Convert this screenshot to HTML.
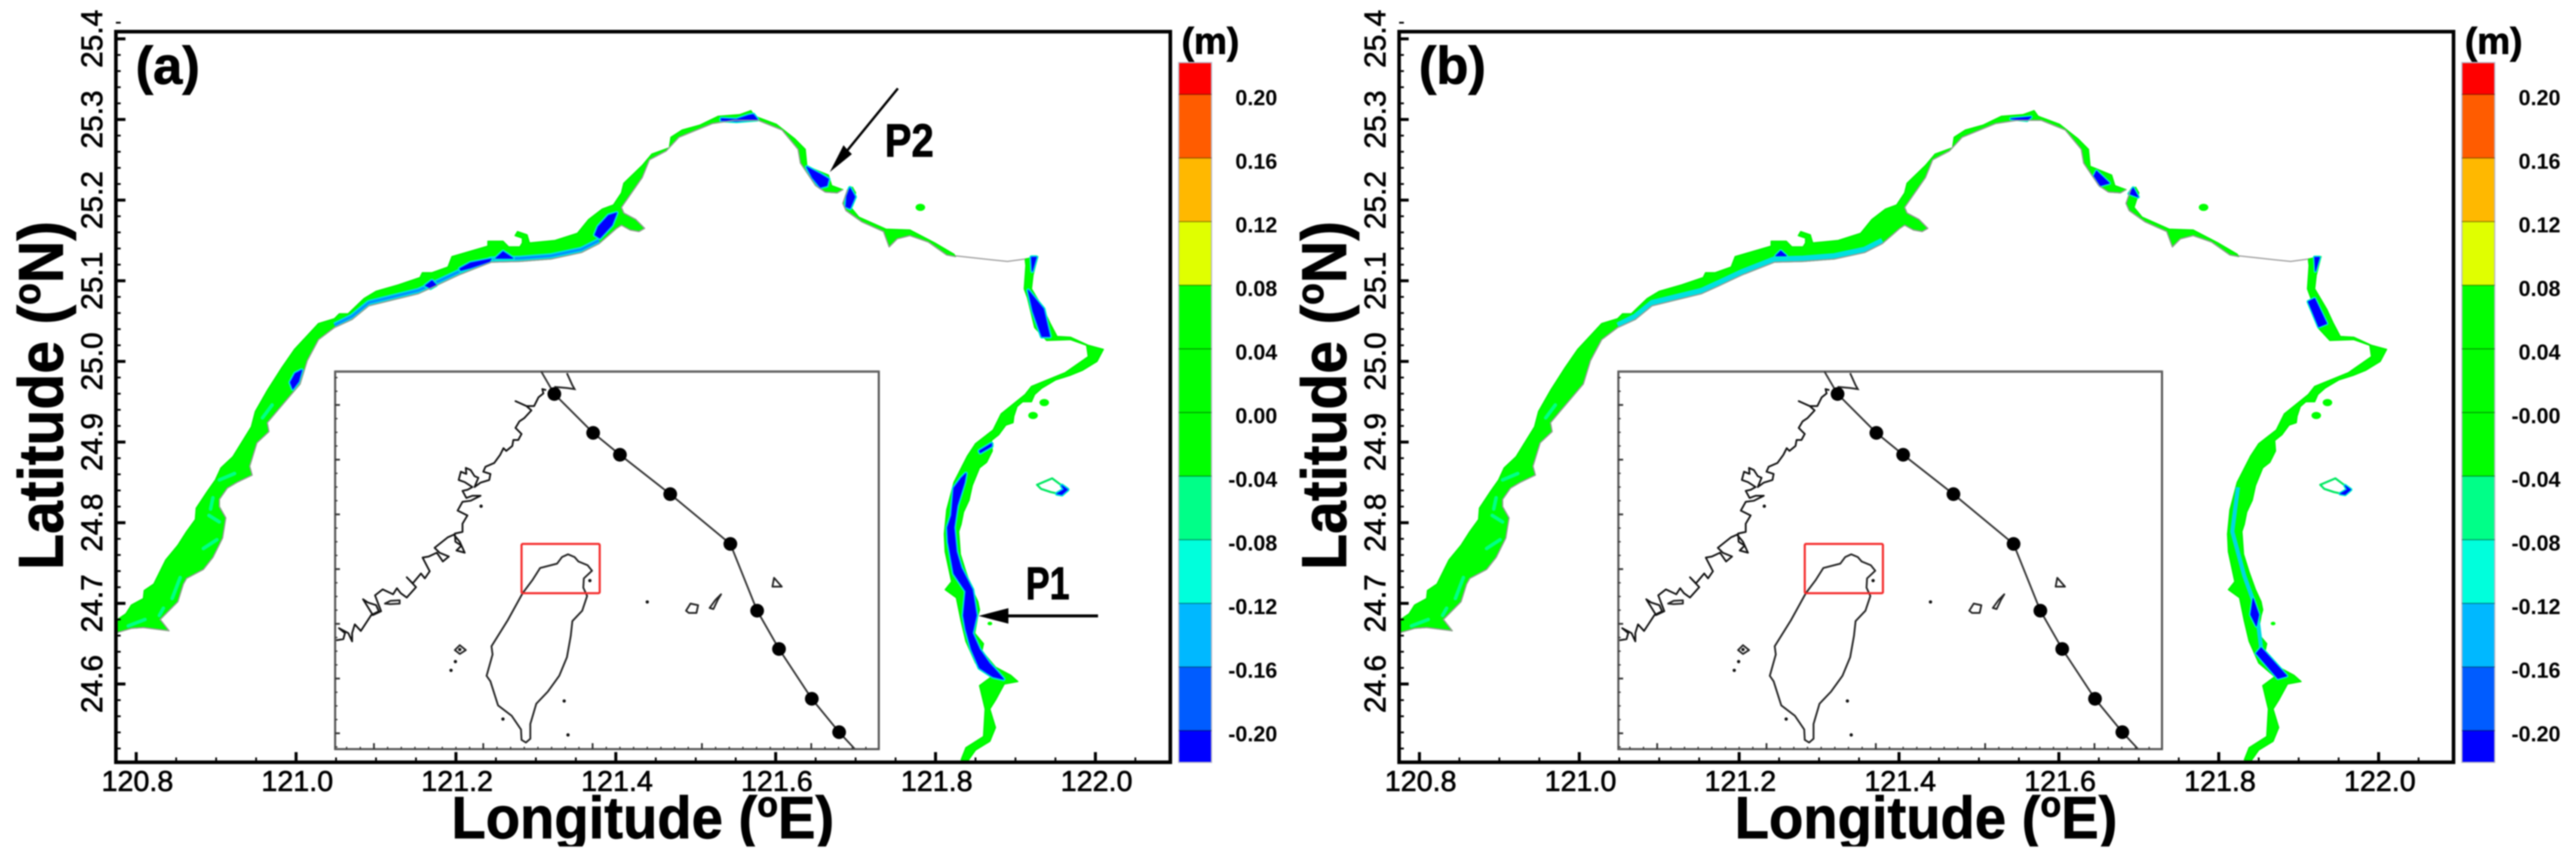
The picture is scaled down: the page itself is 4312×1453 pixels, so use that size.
<!DOCTYPE html>
<html lang="en">
<head>
<meta charset="utf-8">
<title>Surge difference maps</title>
<style>
html,body{margin:0;padding:0;background:#fff;width:4312px;height:1453px;overflow:hidden}
svg{display:block;filter:blur(1px)}
text{font-family:"Liberation Sans",sans-serif;fill:#000}
.tt{font-weight:bold;stroke:#000;stroke-width:1.2px}
</style>
</head>
<body>
<svg id="figure" xmlns="http://www.w3.org/2000/svg" width="4312" height="1453" viewBox="0 0 4312 1453">
<defs><clipPath id="title-clip"><rect x="0" y="1300" width="2200" height="117"/></clipPath></defs>
<rect x="0" y="0" width="4312" height="1453" fill="#fff"/>

<g id="panel-a">
  <g id="marks-a"></g>
  <text class="tt" x="227" y="140" font-size="88">(a)</text>
  <text class="tt" transform="translate(105,662) rotate(-90) scale(.93,1)" text-anchor="middle" font-size="106">Latitude (<tspan font-size="64" dy="-38">o</tspan><tspan dy="38">N)</tspan></text>
  <g clip-path="url(#title-clip)"><text class="tt" transform="translate(1076,1403) scale(.95,1)" text-anchor="middle" font-size="99">Longitude (<tspan font-size="60" dy="-36">o</tspan><tspan dy="36">E)</tspan></text></g>
  <text class="tt" x="1978" y="90" font-size="62">(m)</text>
  <g>
    <line x1="1838" y1="1031" x2="1670" y2="1031" stroke="#000" stroke-width="5"/>
    <polygon points="1638,1031 1688,1018 1688,1044" fill="#000"/>
    <text class="tt" transform="translate(1717,1003) scale(.78,1)" font-size="77">P1</text>
  </g>
  <g>
    <line x1="1503" y1="148" x2="1410" y2="262" stroke="#000" stroke-width="4"/>
    <polygon points="1389,288 1412,243 1418,250 1426,258" fill="#000"/>
    <text class="tt" transform="translate(1481,262) scale(.86,1)" font-size="78">P2</text>
  </g>
</g>

<g id="panel-b" transform="translate(2148,0)">
  <g id="marks-b"></g>
  <text class="tt" x="227" y="140" font-size="88">(b)</text>
  <text class="tt" transform="translate(105,662) rotate(-90) scale(.93,1)" text-anchor="middle" font-size="106">Latitude (<tspan font-size="64" dy="-38">o</tspan><tspan dy="38">N)</tspan></text>
  <g clip-path="url(#title-clip)"><text class="tt" transform="translate(1076,1403) scale(.95,1)" text-anchor="middle" font-size="99">Longitude (<tspan font-size="60" dy="-36">o</tspan><tspan dy="36">E)</tspan></text></g>
  <text class="tt" x="1978" y="90" font-size="62">(m)</text>
</g>
</svg>

<script>
/* ---------- axis data ---------- */
const lonTicks=[120.8,121.0,121.2,121.4,121.6,121.8,122.0];
const lonTickLabels=["120.8","121.0","121.2","121.4","121.6","121.8","122.0"];
const latTicks=[24.6,24.7,24.8,24.9,25.0,25.1,25.2,25.3,25.4];
const latTickLabels=["24.6","24.7","24.8","24.9","25.0","25.1","25.2","25.3","25.4"];

/* ---------- colour bar data ---------- */
const cbarEdges=[0.22,0.20,0.16,0.12,0.08,0.04,0.00,-0.04,-0.08,-0.12,-0.16,-0.20,-0.22];
const cbarLevels=[0.20,0.16,0.12,0.08,0.04,0.00,-0.04,-0.08,-0.12,-0.16,-0.20];
const cbarLabelsA=["0.20","0.16","0.12","0.08","0.04","0.00","-0.04","-0.08","-0.12","-0.16","-0.20"];
const cbarLabelsB=["0.20","0.16","0.12","0.08","0.04","-0.00","-0.04","-0.08","-0.12","-0.16","-0.20"];
const cbarColors=["#ff0000","#ff5c00","#ffb800","#e0ff00","#00ff00","#00ff00","#00ff00","#00ff88","#00ffdc","#00b8ff","#005cff","#0000ff"];

/* ---------- contour regions, [lon, lat] ---------- */
const westLand=[[120.777,24.664],[120.794,24.669],[120.809,24.670],[120.841,24.666],[120.830,24.680],[120.852,24.702],[120.859,24.724],[120.863,24.731],[120.884,24.742],[120.896,24.757],[120.908,24.781],[120.912,24.806],[120.904,24.820],[120.904,24.829],[120.914,24.843],[120.926,24.850],[120.945,24.859],[120.942,24.870],[120.951,24.899],[120.966,24.913],[120.964,24.924],[120.981,24.944],[121.005,24.972],[121.014,25.001],[121.028,25.027],[121.048,25.042],[121.070,25.052],[121.091,25.069],[121.120,25.076],[121.153,25.084],[121.173,25.093],[121.203,25.107],[121.244,25.123],[121.280,25.124],[121.319,25.127],[121.357,25.135],[121.379,25.146],[121.401,25.165],[121.407,25.169],[121.418,25.163],[121.429,25.161],[121.436,25.165],[121.425,25.176],[121.410,25.184],[121.407,25.191],[121.433,25.228],[121.442,25.250],[121.463,25.261],[121.479,25.278],[121.521,25.295],[121.548,25.299],[121.578,25.299],[121.608,25.287],[121.628,25.263],[121.631,25.246],[121.650,25.218],[121.662,25.210],[121.677,25.209],[121.684,25.213]];
const westSea=[[121.681,25.214],[121.670,25.218],[121.666,25.231],[121.639,25.242],[121.637,25.263],[121.624,25.276],[121.601,25.294],[121.574,25.304],[121.569,25.311],[121.555,25.306],[121.528,25.304],[121.505,25.293],[121.483,25.287],[121.469,25.278],[121.467,25.265],[121.445,25.257],[121.433,25.243],[121.410,25.221],[121.407,25.209],[121.397,25.194],[121.383,25.189],[121.366,25.176],[121.357,25.165],[121.352,25.159],[121.324,25.150],[121.292,25.147],[121.289,25.157],[121.277,25.161],[121.274,25.156],[121.283,25.153],[121.283,25.147],[121.280,25.142],[121.266,25.142],[121.259,25.149],[121.240,25.149],[121.240,25.143],[121.195,25.130],[121.190,25.117],[121.170,25.110],[121.158,25.110],[121.155,25.104],[121.128,25.095],[121.100,25.087],[121.085,25.078],[121.065,25.059],[121.054,25.059],[121.048,25.053],[121.028,25.047],[120.998,25.015],[120.982,24.992],[120.964,24.964],[120.949,24.938],[120.944,24.919],[120.921,24.882],[120.906,24.868],[120.899,24.853],[120.889,24.839],[120.875,24.818],[120.874,24.804],[120.863,24.789],[120.852,24.772],[120.837,24.754],[120.822,24.724],[120.810,24.716],[120.809,24.706],[120.794,24.698],[120.787,24.687],[120.775,24.679]];
const cyanStripWest=[[121.048,25.045],[121.070,25.056],[121.091,25.073],[121.120,25.080],[121.153,25.088],[121.173,25.097],[121.203,25.111],[121.244,25.127],[121.280,25.128],[121.319,25.131],[121.357,25.139],[121.379,25.150]];
const northLand=[[121.690,25.213],[121.684,25.196],[121.688,25.187],[121.708,25.173],[121.735,25.161],[121.742,25.142],[121.752,25.152],[121.768,25.156],[121.791,25.148],[121.814,25.132],[121.825,25.130]];
const northSea=[[121.823,25.133],[121.799,25.147],[121.768,25.163],[121.738,25.164],[121.704,25.179],[121.694,25.191],[121.700,25.209],[121.696,25.216]];
const grayCoast=[[121.825,25.131],[121.870,25.126],[121.890,25.124],[121.912,25.127]];
const eastOuter=[[121.912,25.127],[121.928,25.130],[121.922,25.107],[121.920,25.090],[121.935,25.065],[121.943,25.048],[121.952,25.031],[121.969,25.030],[121.991,25.020],[122.010,25.015],[122.002,25.000],[121.984,24.989],[121.969,24.983],[121.950,24.977],[121.933,24.967],[121.924,24.959],[121.920,24.950],[121.909,24.950],[121.902,24.944],[121.898,24.932],[121.897,24.924],[121.888,24.921],[121.879,24.909],[121.870,24.902],[121.871,24.889],[121.864,24.875],[121.855,24.868],[121.846,24.846],[121.842,24.828],[121.835,24.813],[121.832,24.798],[121.829,24.789],[121.831,24.761],[121.838,24.739],[121.846,24.717],[121.853,24.702],[121.855,24.692],[121.853,24.685],[121.849,24.663],[121.860,24.650],[121.858,24.641],[121.875,24.621],[121.894,24.611],[121.903,24.603],[121.886,24.600],[121.875,24.580],[121.868,24.569],[121.875,24.546],[121.868,24.529],[121.850,24.518],[121.840,24.504]];
const eastInner=[[121.832,24.506],[121.838,24.521],[121.860,24.535],[121.862,24.569],[121.855,24.598],[121.870,24.609],[121.850,24.626],[121.838,24.653],[121.832,24.678],[121.826,24.707],[121.812,24.717],[121.820,24.727],[121.812,24.764],[121.811,24.786],[121.814,24.816],[121.823,24.850],[121.840,24.883],[121.850,24.898],[121.872,24.915],[121.882,24.935],[121.912,24.959],[121.920,24.969],[121.962,24.986],[121.991,25.006],[121.989,25.020],[121.969,25.027],[121.939,25.026],[121.924,25.042],[121.915,25.079],[121.911,25.090],[121.913,25.119]];
const ringIsland=[[121.927,24.847],[121.946,24.855],[121.954,24.849],[121.965,24.841],[121.958,24.835],[121.944,24.838],[121.932,24.842]];
const greenIslets=[[121.936,24.949],[121.922,24.933],[121.868,24.675],[121.781,25.191]];
const lightStreaks=[[[120.958,24.930],[120.970,24.946]],[[120.896,24.831],[120.893,24.817]],[[120.891,24.809],[120.904,24.801]],[[120.901,24.779],[120.884,24.768]],[[120.855,24.732],[120.845,24.706]],[[120.834,24.694],[120.829,24.685]],[[120.811,24.680],[120.790,24.672]],[[120.904,24.853],[120.923,24.861]]];

/* lowest-level pools in each panel */
const poolsA=[
 [[121.838,24.861],[121.836,24.850],[121.827,24.821],[121.823,24.794],[121.826,24.764],[121.832,24.744],[121.846,24.717],[121.849,24.698],[121.851,24.685],[121.846,24.663],[121.855,24.643],[121.867,24.626],[121.879,24.613],[121.885,24.606],[121.872,24.609],[121.855,24.620],[121.845,24.643],[121.838,24.668],[121.835,24.685],[121.838,24.715],[121.823,24.737],[121.816,24.776],[121.815,24.794],[121.820,24.809],[121.823,24.843],[121.832,24.855]],
 [[121.855,24.889],[121.870,24.898],[121.870,24.895],[121.856,24.887]],
 [[121.401,25.184],[121.395,25.169],[121.380,25.153],[121.374,25.157],[121.378,25.167],[121.391,25.181]],
 [[121.250,25.128],[121.259,25.136],[121.271,25.128]],
 [[121.205,25.115],[121.218,25.122],[121.244,25.127],[121.242,25.124],[121.218,25.116],[121.206,25.113]],
 [[121.162,25.094],[121.170,25.100],[121.175,25.095],[121.168,25.091]],
 [[121.532,25.301],[121.551,25.300],[121.566,25.305],[121.572,25.306],[121.577,25.300],[121.551,25.298],[121.532,25.299]],
 [[121.639,25.241],[121.656,25.232],[121.666,25.226],[121.664,25.218],[121.656,25.216],[121.646,25.228]],
 [[121.693,25.215],[121.699,25.204],[121.693,25.190],[121.688,25.192],[121.689,25.205]],
 [[121.920,25.129],[121.926,25.129],[121.921,25.112]],
 [[121.916,25.088],[121.935,25.065],[121.943,25.031],[121.933,25.031],[121.922,25.062]],
 [[121.007,24.989],[121.003,24.975],[120.996,24.966],[120.993,24.974],[120.999,24.985]],
 [[121.958,24.846],[121.965,24.841],[121.958,24.835],[121.952,24.836],[121.961,24.841]]
];
const poolsB=[
 [[121.843,24.706],[121.850,24.686],[121.847,24.672],[121.840,24.686]],
 [[121.853,24.645],[121.885,24.610],[121.874,24.607],[121.847,24.638]],
 [[121.920,25.078],[121.935,25.047],[121.925,25.043],[121.912,25.074]],
 [[121.540,25.301],[121.565,25.303],[121.560,25.299]],
 [[121.647,25.236],[121.663,25.221],[121.652,25.218],[121.644,25.230]],
 [[121.693,25.215],[121.699,25.204],[121.688,25.208]],
 [[121.920,25.129],[121.926,25.129],[121.921,25.112]],
 [[121.246,25.131],[121.252,25.137],[121.259,25.131]],
 [[121.958,24.846],[121.965,24.841],[121.958,24.835],[121.952,24.836],[121.961,24.841]]
];
const eastStripB=[[121.824,24.844],[121.817,24.789],[121.832,24.734],[121.847,24.693],[121.853,24.645]];

/* ---------- inset map data ---------- */
const trackLon=[121.06,121.30,122.01,122.50,123.42,124.52,125.01,125.41,126.01,126.51,126.79];
const trackLat=[28.61,28.20,27.49,27.09,26.37,25.46,24.24,23.54,22.63,22.02,21.72];
const markerLon=[121.30,122.01,122.50,123.42,124.52,125.01,125.41,126.01,126.51];
const markerLat=[28.20,27.49,27.09,26.37,25.46,24.24,23.54,22.63,22.02];
const insetLonTicks=[118,120,122,124,126];
const insetLatTicks=[22,23,24,25,26,27,28];
const taiwanCoast=[[121.55,25.27],[121.67,25.22],[121.74,25.14],[121.91,25.07],[121.99,24.97],[121.84,24.83],[121.83,24.66],[121.90,24.51],[121.81,24.24],[121.63,24.05],[121.60,23.78],[121.53,23.39],[121.39,23.05],[121.18,22.76],[120.97,22.54],[120.86,22.17],[120.86,21.90],[120.78,21.83],[120.70,21.88],[120.69,22.07],[120.52,22.32],[120.27,22.51],[120.13,22.95],[120.06,23.05],[120.17,23.44],[120.15,23.59],[120.45,24.07],[120.72,24.56],[120.90,24.80],[121.04,25.02],[121.35,25.10],[121.44,25.22]];
const mainlandCoast=[[121.15,28.27],[121.08,28.29],[121.10,28.21],[121.01,28.14],[120.93,27.98],[120.79,27.98],[120.59,28.07],[120.79,27.98],[120.88,27.90],[120.75,27.76],[120.66,27.70],[120.59,27.58],[120.70,27.47],[120.64,27.36],[120.55,27.36],[120.53,27.25],[120.42,27.16],[120.37,27.21],[120.31,27.09],[120.20,26.94],[120.04,26.87],[120.00,26.78],[120.13,26.74],[120.11,26.63],[119.95,26.58],[119.84,26.50],[119.91,26.67],[119.84,26.70],[119.77,26.81],[119.68,26.85],[119.69,26.74],[119.59,26.78],[119.55,26.63],[119.66,26.59],[119.80,26.50],[119.71,26.45],[119.62,26.43],[119.69,26.30],[119.80,26.34],[119.95,26.34],[119.77,26.25],[119.62,26.23],[119.53,26.07],[119.71,25.98],[119.62,25.83],[119.62,25.68],[119.48,25.65],[119.49,25.50],[119.60,25.43],[119.51,25.34],[119.66,25.30],[119.57,25.50],[119.46,25.63],[119.35,25.58],[119.11,25.39],[119.20,25.30],[119.37,25.23],[119.26,25.14],[119.15,25.30],[119.00,25.23],[118.89,25.21],[119.02,24.96],[118.93,24.83],[118.86,24.92],[118.71,24.74],[118.60,24.85],[118.77,24.67],[118.60,24.48],[118.49,24.56],[118.42,24.65],[118.35,24.54],[118.16,24.63],[118.02,24.52],[118.13,24.23],[117.98,24.16],[117.80,24.45],[117.89,24.39],[118.04,24.34],[118.09,24.23],[117.95,24.16],[117.76,23.87],[117.65,23.99],[117.60,23.83],[117.60,23.68],[117.53,23.83],[117.36,23.92],[117.47,23.83],[117.44,23.72],[117.31,23.70]];
const northCoast=[[121.53,28.58],[121.63,28.36],[121.67,28.29],[121.53,28.31],[121.30,28.33]];
const ringIsles=[[[123.71,24.24],[123.79,24.37],[123.93,24.34],[123.90,24.20],[123.76,24.20]],[[124.14,24.29],[124.25,24.44],[124.35,24.54],[124.29,24.44],[124.21,24.27]],[[125.29,24.68],[125.46,24.68],[125.32,24.84]],[[118.20,24.37],[118.30,24.42],[118.47,24.43],[118.47,24.37],[118.30,24.36]],[[119.48,23.52],[119.57,23.61],[119.68,23.52],[119.57,23.45]]];
const dotIsles=[[119.57,23.53],[119.49,23.31],[119.41,23.15],[120.36,22.26],[121.48,22.59],[121.55,21.97],[123.00,24.40],[119.96,26.15],[121.95,24.79]];
const boxLon=[120.70,122.13];
const boxLat=[24.56,25.46];

/* ---------- axis functions ---------- */
function sx(lon){return 228+(lon-120.8)*1338;}
function sy(lat){return 200+(25.3-lat)*1350;}
function ix(lon){return 561+(lon-117.29)*91.5;}
function iy(lat){return 622+(28.61-lat)*91.6;}
function cy(v){return 158+(0.20-v)*2662.5;}

const NS='http://www.w3.org/2000/svg';
function add(parent,tag,attrs){
  const el=document.createElementNS(NS,tag);
  for(const k in attrs){el.setAttribute(k,attrs[k]);}
  parent.appendChild(el);
  return el;
}
function pts(list){return list.map(p=>sx(p[0]).toFixed(1)+','+sy(p[1]).toFixed(1)).join(' ');}
function ipts(list){return list.map(p=>ix(p[0]).toFixed(1)+','+iy(p[1]).toFixed(1)).join(' ');}

function drawPanel(root,pools,labels,isB){
  /* surge regions */
  const regions=[westLand.concat(westSea),northLand.concat(northSea),eastOuter.concat(eastInner)];
  regions.forEach(function(r){
    const el=add(root,'polygon',{points:pts(r),fill:'#00ff00',stroke:'#00f000','stroke-width':2,'stroke-linejoin':'round'});
    
    
  });
  greenIslets.forEach(function(p){
    const el=add(root,'ellipse',{cx:sx(p[0]),cy:sy(p[1]),rx:p[1]<24.8?4:8,ry:p[1]<24.8?3:6,fill:'#00ff00'});
    
    
  });
  lightStreaks.forEach(function(s){
    const el=add(root,'polyline',{points:pts(s),fill:'none',stroke:'#00ff88','stroke-width':6,'stroke-linecap':'round'});
    
    
  });
  const strip=add(root,'polyline',{points:pts(cyanStripWest),fill:'none',stroke:'#00e0e0','stroke-width':9,'stroke-linejoin':'round'});
  
  
  if(!isB){
    const inner=add(root,'polyline',{points:pts(cyanStripWest),fill:'none',stroke:'#0090ff','stroke-width':4,'stroke-linejoin':'round'});
    
    
  }
  if(isB){
    const eb=add(root,'polyline',{points:pts(eastStripB),fill:'none',stroke:'#00d8e0','stroke-width':7,'stroke-linejoin':'round'});
    
    
  }
  const ring=add(root,'polygon',{points:pts(ringIsland),fill:'#fff',stroke:'#00e860','stroke-width':3.5,'stroke-linejoin':'round'});
  
  
  /* pools with contour halos */
  pools.forEach(function(pool){
    const a=add(root,'polygon',{points:pts(pool),fill:'#00ffc0',stroke:'#00ffc0','stroke-width':isB?6:7,'stroke-linejoin':'round'});
    
    
    const b=add(root,'polygon',{points:pts(pool),fill:'#00a0ff',stroke:'#00a0ff','stroke-width':isB?3:4,'stroke-linejoin':'round'});
    
    
    const c=add(root,'polygon',{points:pts(pool),fill:'#0000ff',stroke:'#0000ff','stroke-width':1,'stroke-linejoin':'round'});
    
    
  });
  /* coast edges */
  [westLand,northLand,grayCoast].forEach(function(c){
    const el=add(root,'polyline',{points:pts(c),fill:'none',stroke:'#999','stroke-width':2,'stroke-linejoin':'round'});
    
    
  });

  /* frame and ticks */
  const frame=add(root,'rect',{x:194,y:53,width:1765,height:1223,fill:'none',stroke:'#000','stroke-width':6});
  
  
  for(let i=0;i<=25;i++){
    const v=120.8+i*0.05;
    const t=add(root,'line',{x1:sx(v),x2:sx(v),y1:1276,y2:1268,stroke:'#000','stroke-width':3});
    
    
  }
  for(let i=0;i<=45;i++){
    const v=24.52+i*0.02;
    const t=add(root,'line',{x1:194,x2:202,y1:sy(v),y2:sy(v),stroke:'#000','stroke-width':3});
    
    
  }
  lonTicks.forEach(function(v,i){
    const t=add(root,'line',{x1:sx(v),x2:sx(v),y1:1276,y2:1259,stroke:'#000','stroke-width':5});
    
    
    const l=add(root,'text',{x:sx(v)+2,y:1324,'text-anchor':'middle','font-size':48,stroke:'#000','stroke-width':1});
    l.textContent=lonTickLabels[i];
    
    
  });
  latTicks.forEach(function(v,i){
    const t=add(root,'line',{x1:194,x2:210,y1:sy(v),y2:sy(v),stroke:'#000','stroke-width':5});
    
    
    const l=add(root,'text',{transform:'translate(171,'+sy(v)+') rotate(-90)','text-anchor':'middle','font-size':50,stroke:'#000','stroke-width':1});
    l.textContent=latTickLabels[i];
    
    
  });

  /* colour bar */
  cbarColors.forEach(function(col,i){
    const top=cy(cbarEdges[i]);
    const bot=cy(cbarEdges[i+1]);
    const r=add(root,'rect',{x:1973,y:top,width:55,height:bot-top,fill:col});
    
    
  });
  const cbarOutline=add(root,'rect',{x:1973,y:cy(0.22),width:55,height:cy(-0.22)-cy(0.22),fill:'none',stroke:'#b8b8c8','stroke-width':2});
  
  
  cbarLevels.forEach(function(v,i){
    const ln=add(root,'line',{x1:1973,x2:2028,y1:cy(v),y2:cy(v),stroke:'#000','stroke-opacity':0.35,'stroke-width':2});
    
    
    const l=add(root,'text',{x:2138,y:cy(v)+18,'text-anchor':'end','font-size':36,'font-weight':'bold'});
    l.textContent=labels[i];
    
    
  });

  /* inset */
  const inset=add(root,'g',{});
  
  
  const bg=add(inset,'rect',{x:561,y:622,width:910,height:632,fill:'#fff',stroke:'#555','stroke-width':3.5});
  
  
  const topEdge=add(inset,'line',{x1:561,x2:1471,y1:622,y2:622,stroke:'#666','stroke-width':4});
  
  
  insetLonTicks.forEach(function(v){
    const t=add(inset,'line',{x1:ix(v),x2:ix(v),y1:1254,y2:1244,stroke:'#333','stroke-width':3});
    
    
  });
  for(let i=0;i<=38;i++){
    const v=117.5+i*0.25;
    const t=add(inset,'line',{x1:ix(v),x2:ix(v),y1:1254,y2:1250,stroke:'#333','stroke-width':2});
    
    
  }
  insetLatTicks.forEach(function(v){
    const t=add(inset,'line',{x1:561,x2:569,y1:iy(v),y2:iy(v),stroke:'#333','stroke-width':3});
    
    
  });
  for(let i=0;i<=27;i++){
    const v=21.75+i*0.25;
    const t=add(inset,'line',{x1:561,x2:565,y1:iy(v),y2:iy(v),stroke:'#333','stroke-width':2});
    
    
  }
  const tw=add(inset,'polygon',{points:ipts(taiwanCoast),fill:'none',stroke:'#222','stroke-width':3,'stroke-linejoin':'round'});
  
  
  const ml=add(inset,'polyline',{points:ipts(mainlandCoast),fill:'none',stroke:'#111','stroke-width':3,'stroke-linejoin':'round'});
  
  
  const nc=add(inset,'polyline',{points:ipts(northCoast),fill:'none',stroke:'#222','stroke-width':3});
  
  
  ringIsles.forEach(function(p){
    const el=add(inset,'polygon',{points:ipts(p),fill:'none',stroke:'#222','stroke-width':3,'stroke-linejoin':'round'});
    
    
  });
  dotIsles.forEach(function(p,i){
    const el=add(inset,'circle',{cx:ix(p[0]),cy:iy(p[1]),r:2.8,fill:'#111'});
    
    
  });
  const box=add(inset,'rect',{x:ix(boxLon[0]),y:iy(boxLat[1]),width:ix(boxLon[1])-ix(boxLon[0]),height:iy(boxLat[0])-iy(boxLat[1]),fill:'none',stroke:'#f52a2a','stroke-width':3.5,rx:2});
  
  
  const track=add(inset,'polyline',{points:trackLon.map((v,i)=>ix(v).toFixed(1)+','+iy(trackLat[i]).toFixed(1)).join(' '),fill:'none',stroke:'#333','stroke-width':3});
  
  
  markerLon.forEach(function(v,i){
    const m=add(inset,'circle',{cx:ix(v),cy:iy(markerLat[i]),r:11.5,fill:'#000'});
    
    
  });
}
drawPanel(document.getElementById('marks-a'),poolsA,cbarLabelsA,false);
drawPanel(document.getElementById('marks-b'),poolsB,cbarLabelsB,true);
</script>
</body>
</html>
